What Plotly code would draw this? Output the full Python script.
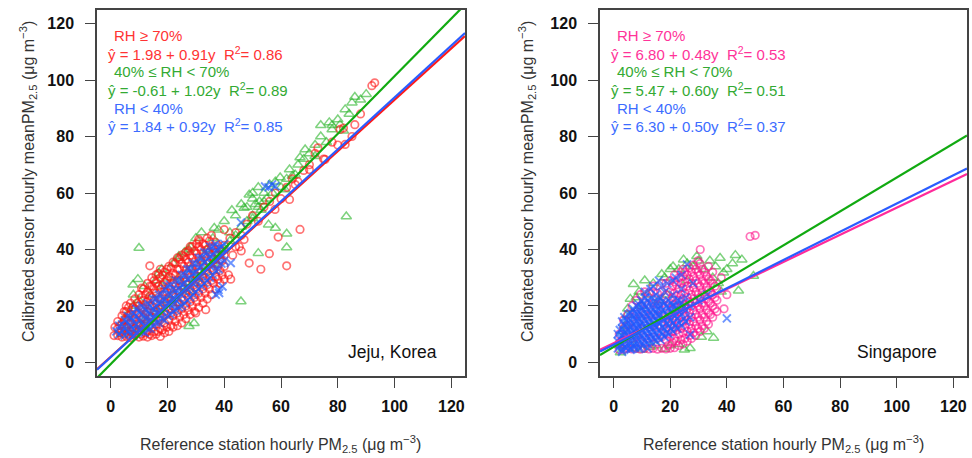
import plotly.graph_objects as go

W, H = 972, 458

# ---------------- data ----------------
ticks = [0, 20, 40, 60, 80, 100, 120]
axis_range = [-4.8, 124.8]

# regression coefficients (intercept, slope)
jeju_fit = {"high": (1.98, 0.91), "mid": (-0.61, 1.02), "low": (1.84, 0.92)}
sing_fit = {"high": (6.80, 0.48), "mid": (5.47, 0.60), "low": (6.30, 0.50)}
jeju_r2 = {"high": 0.86, "mid": 0.89, "low": 0.85}
sing_r2 = {"high": 0.53, "mid": 0.51, "low": 0.37}

jeju_high = [
    (1.2, 9.5), (1.5, 12.5), (2.5, 9.5), (2.5, 12), (2.5, 14.5),
    (4, 9), (4, 11), (4, 13.5), (4, 16.5),
    (5.5, 9.2), (5.5, 12.5), (5.5, 15), (5.5, 18), (5.5, 20),
    (7, 8.8), (7, 11), (7, 14), (7, 17), (7, 21),
    (8.5, 9.5), (8.5, 12), (8.5, 15.5), (8.5, 19), (8.5, 22.5),
    (10, 9), (10, 11.5), (10, 14), (10, 17.5), (10, 20), (10, 24),
    (11.5, 9.3), (11.5, 13), (11.5, 16), (11.5, 19), (11.5, 22), (11.5, 26),
    (13, 9), (13, 11), (13, 14.5), (13, 18), (13, 21.5), (13, 25), (13, 28),
    (14.5, 9.5), (14.5, 12.5), (14.5, 16), (14.5, 20), (14.5, 23), (14.5, 27), (14.5, 30),
    (16, 10), (16, 13.5), (16, 17), (16, 21), (16, 24.5), (16, 28), (16, 31),
    (17.5, 9.2), (17.5, 12), (17.5, 15), (17.5, 19), (17.5, 22.5), (17.5, 26), (17.5, 30), (17.5, 33),
    (19, 10.5), (19, 14), (19, 18), (19, 21.5), (19, 25), (19, 28.5), (19, 32),
    (20.5, 11), (20.5, 15), (20.5, 19), (20.5, 23), (20.5, 27), (20.5, 30.5), (20.5, 34),
    (22, 12.5), (22, 16.5), (22, 20), (22, 24), (22, 28), (22, 31.5), (22, 35.5),
    (23.5, 13), (23.5, 17.5), (23.5, 21.5), (23.5, 25.5), (23.5, 29), (23.5, 33), (23.5, 37),
    (25, 14), (25, 19), (25, 23), (25, 27), (25, 31), (25, 35), (25, 38),
    (26.5, 15.5), (26.5, 20), (26.5, 24.5), (26.5, 28.5), (26.5, 32.5), (26.5, 36.5), (26.5, 39),
    (28, 17), (28, 21.5), (28, 26), (28, 30), (28, 34), (28, 38), (28, 41),
    (29.5, 18), (29.5, 23), (29.5, 27.5), (29.5, 31.5), (29.5, 35.5), (29.5, 39.5),
    (31, 19.5), (31, 24.5), (31, 29), (31, 33), (31, 37), (31, 41), (31, 43.5),
    (32.5, 21), (32.5, 26), (32.5, 30.5), (32.5, 34.5), (32.5, 38.5), (32.5, 42),
    (34, 22.5), (34, 27.5), (34, 32), (34, 36), (34, 40), (34, 44),
    (35.5, 24), (35.5, 29), (35.5, 33.5), (35.5, 37.5), (35.5, 41), (35.5, 45),
    (37, 26), (37, 30.5), (37, 35), (37, 39), (37, 42.5),
    (38.5, 28), (38.5, 32.5), (38.5, 36.5), (38.5, 40),
    (40, 29.5), (40, 34), (40, 38), (40, 41.5),
    (3.2, 10.5), (3.2, 13), (4.8, 10), (4.8, 12.5), (4.8, 15), (4.8, 18),
    (6.3, 10), (6.3, 13.5), (6.3, 16.5), (6.3, 19.5), (7.8, 10), (7.8, 12.5), (7.8, 16), (7.8, 19.5),
    (9.3, 10.5), (9.3, 13.5), (9.3, 17), (9.3, 21), (10.8, 10), (10.8, 13), (10.8, 16), (10.8, 19.5), (10.8, 23),
    (12.3, 10.5), (12.3, 13.5), (12.3, 17), (12.3, 20.5), (12.3, 24),
    (13.8, 10), (13.8, 13), (13.8, 16.5), (13.8, 20), (13.8, 23.5), (13.8, 27),
    (15.3, 11), (15.3, 14.5), (15.3, 18), (15.3, 22), (15.3, 26), (15.3, 29),
    (16.8, 11), (16.8, 15), (16.8, 19), (16.8, 23), (16.8, 27), (16.8, 31.5),
    (18.3, 11.5), (18.3, 16), (18.3, 20), (18.3, 24), (18.3, 27.5), (18.3, 31),
    (19.8, 12.5), (19.8, 17), (19.8, 21), (19.8, 25), (19.8, 29), (19.8, 33),
    (21.3, 13), (21.3, 17.5), (21.3, 22), (21.3, 26), (21.3, 30), (21.3, 33.5),
    (22.8, 14.5), (22.8, 19), (22.8, 23), (22.8, 27), (22.8, 31), (22.8, 35),
    (24.3, 16), (24.3, 20.5), (24.3, 25), (24.3, 29), (24.3, 33), (24.3, 36.5),
    (25.8, 17), (25.8, 22), (25.8, 26), (25.8, 30), (25.8, 34), (25.8, 37.5),
    (27.3, 18.5), (27.3, 23), (27.3, 27.5), (27.3, 31.5), (27.3, 35.5), (27.3, 39.5),
    (28.8, 20), (28.8, 24.5), (28.8, 29), (28.8, 33), (28.8, 37), (28.8, 41),
    (30.3, 21.5), (30.3, 26), (30.3, 30.5), (30.3, 34.5), (30.3, 38.5), (30.3, 42),
    (31.8, 23), (31.8, 27.5), (31.8, 32), (31.8, 36), (31.8, 40),
    (33.3, 24.5), (33.3, 29), (33.3, 33.5), (33.3, 37.5), (33.3, 41.5),
    (34.8, 26), (34.8, 30.5), (34.8, 35), (34.8, 39), (34.8, 43),
    (36.3, 28), (36.3, 32.5), (36.3, 36.5), (36.3, 40.5),
    (37.8, 29.5), (37.8, 34), (37.8, 38), (37.8, 41.5), (39.3, 31), (39.3, 36), (39.3, 39.5),
    (13.8, 34.2), (52.9, 33), (62, 34.2), (55.9, 38.5), (59, 44.4), (45.3, 41), (47, 43.5),
    (40, 47), (48.8, 35.2), (42.3, 29.5), (30, 17.5), (33.5, 18.7), (10.9, 26.3), (31.2, 42.9),
    (43, 38), (44, 41), (46, 39.5), (41.5, 31),
    (42, 44), (44, 46), (46, 45), (48, 49), (50, 52), (52, 50), (54, 55), (56, 57), (58, 60),
    (60, 58), (62, 62), (64, 65), (66, 64), (68, 68), (70, 70), (72, 74), (75, 72), (78, 78),
    (80, 77), (82, 83), (85, 80), (88, 88), (92, 98), (93, 99), (80.8, 82.5), (86, 84.2),
    (82.6, 77.2), (73, 76), (75.5, 71.9), (70, 68.3), (65, 63), (63, 57.7), (57.9, 54.2), (66.7, 47.1),
]

jeju_mid = [
    (4, 10), (4, 14), (6, 11), (6, 17), (8, 12), (8, 20), (8, 24), (10, 13), (10, 22),
    (12, 15), (12, 27), (14, 16), (14, 24), (16, 18), (16, 29), (18, 20), (18, 27), (18, 33),
    (20, 22), (20, 30), (22, 24), (22, 35), (24, 21), (24, 30), (24, 37), (26, 27), (26, 39),
    (28, 25), (28, 33), (28, 41), (30, 30), (30, 44), (32, 28), (32, 36), (32, 46), (34, 32),
    (34, 40), (36, 35), (36, 44), (38, 38), (38, 47), (40, 40), (40, 50), (42, 43), (42, 46),
    (44, 45), (44, 52), (46, 48), (46, 56), (48, 50), (48, 55), (50, 52), (50, 58), (50, 60),
    (52, 55), (52, 62), (54, 57), (54, 60),
    (10, 40.5), (9.6, 29.5), (7.9, 27.5), (83, 51.7), (45.9, 21.6), (52, 38.7), (62, 45.6),
    (58, 47.6), (55.6, 48.8), (42.7, 53.9), (47, 54.7), (48.8, 59.4), (52.4, 57), (27.6, 12.8),
    (29.4, 13.9), (36.5, 47.6), (24, 37.6), (27.6, 39.9), (17, 31.6), (62, 40.7),
    (86, 94), (82.6, 89.6), (77, 85), (74, 84), (78, 82.5), (80.8, 84.2), (72, 77), (68.5, 75.4),
    (66.7, 72.6), (63, 68.3), (65, 66.5), (59.7, 65.5), (61.4, 61.2), (56, 63), (60, 62),
    (62, 65), (64, 66), (66, 70), (68, 72), (70, 74), (72, 73), (74, 80), (76, 78), (78, 84),
    (80, 86), (82, 82), (84, 88), (85, 92), (88, 93), (90, 95), (57, 60), (58, 64), (55, 58),
    (53, 54), (51, 56), (50, 51),
]

jeju_low = [
    (3, 10), (3, 13), (5, 9.5), (5, 12), (5, 15), (7, 10), (7, 13), (7, 16),
    (9, 10.5), (9, 13.5), (9, 16.5), (9, 19), (11, 11), (11, 14), (11, 17), (11, 20),
    (13, 12), (13, 15), (13, 18), (13, 21), (15, 13), (15, 16), (15, 19), (15, 22.5),
    (17, 14), (17, 17.5), (17, 21), (17, 24), (19, 15), (19, 19), (19, 22), (19, 26),
    (21, 17), (21, 20.5), (21, 24), (21, 27.5), (23, 18.5), (23, 22), (23, 25.5), (23, 29),
    (25, 20), (25, 24), (25, 27.5), (25, 31), (27, 22), (27, 26), (27, 29.5), (27, 33),
    (29, 24), (29, 28), (29, 31.5), (29, 35), (31, 26), (31, 30), (31, 33.5), (31, 37),
    (33, 28), (33, 32), (33, 35.5), (33, 39), (35, 30), (35, 34), (35, 37.5), (35, 41),
    (37, 32.5), (37, 36), (37, 39.5), (37, 42), (39, 35), (39, 38.5), (39, 41),
    (4, 11), (6, 14), (8, 12), (10, 15), (12, 13), (14, 17), (16, 20), (18, 18), (20, 21),
    (22, 23), (24, 26), (26, 25), (28, 30), (30, 32), (32, 34), (34, 33), (36, 38), (38, 37), (40, 40),
    (2, 11), (4, 13.5), (6, 11), (6, 16.5), (8, 9.5), (8, 15), (8, 17.5), (10, 11.5), (10, 18),
    (12, 10.5), (12, 16), (12, 19), (14, 12), (14, 20), (14, 15), (16, 14), (16, 17.5), (16, 22.5),
    (18, 15.5), (18, 21.5), (18, 24), (20, 16.5), (20, 24), (20, 27), (22, 18), (22, 20.5), (22, 26),
    (24, 19.5), (24, 22.5), (24, 29), (26, 21), (26, 28), (26, 31), (28, 23), (28, 26.5), (28, 33),
    (30, 25), (30, 28.5), (30, 35), (32, 27), (32, 30.5), (32, 37), (34, 29), (34, 36.5), (34, 39),
    (36, 31), (36, 34.5), (36, 41), (38, 33), (38, 40.5), (40, 36), (40, 42),
    (55.6, 62), (42.3, 35.2), (38.2, 24.6), (39.4, 26.9), (45.9, 49.6), (58, 62.4),
    (54.4, 62.3), (56.8, 63), (37, 24), (38, 25.7),
]

sing_high = [
    (2, 4.5), (2, 7), (2, 10),
    (3.5, 4.6), (3.5, 8), (3.5, 12), (3.5, 15),
    (5, 5), (5, 9), (5, 13), (5, 17),
    (6.5, 4.8), (6.5, 8.5), (6.5, 12), (6.5, 16), (6.5, 20),
    (8, 5), (8, 9), (8, 13), (8, 17), (8, 22),
    (9.5, 4.7), (9.5, 8), (9.5, 12), (9.5, 16), (9.5, 20), (9.5, 24),
    (11, 5), (11, 9), (11, 13), (11, 17), (11, 21), (11, 25),
    (12.5, 4.8), (12.5, 8.5), (12.5, 12.5), (12.5, 16.5), (12.5, 20.5), (12.5, 24.5),
    (14, 5), (14, 9), (14, 13), (14, 17), (14, 21), (14, 25), (14, 27),
    (15.5, 4.7), (15.5, 8.5), (15.5, 12.5), (15.5, 16.5), (15.5, 20.5), (15.5, 24.5),
    (17, 5), (17, 9), (17, 13), (17, 17), (17, 21), (17, 25), (17, 28),
    (18.5, 4.8), (18.5, 8), (18.5, 12), (18.5, 16), (18.5, 20), (18.5, 24), (18.5, 28),
    (20, 5), (20, 9), (20, 13), (20, 17), (20, 21), (20, 25), (20, 29),
    (21.5, 5.2), (21.5, 8.5), (21.5, 12.5), (21.5, 16.5), (21.5, 20.5), (21.5, 24.5), (21.5, 28.5), (21.5, 31),
    (23, 6), (23, 10), (23, 14), (23, 18), (23, 22), (23, 26), (23, 30),
    (24.5, 6.5), (24.5, 10.5), (24.5, 14.5), (24.5, 18.5), (24.5, 22.5), (24.5, 26.5), (24.5, 30.5), (24.5, 33),
    (26, 7.5), (26, 11), (26, 15), (26, 19), (26, 23), (26, 27), (26, 31),
    (27.5, 8.5), (27.5, 12), (27.5, 16), (27.5, 20), (27.5, 24), (27.5, 28), (27.5, 32),
    (29, 9.5), (29, 13), (29, 17), (29, 21), (29, 25), (29, 29), (29, 33),
    (30.5, 11), (30.5, 15), (30.5, 19), (30.5, 23), (30.5, 27), (30.5, 31), (30.5, 35),
    (32, 12), (32, 16), (32, 20), (32, 24), (32, 28), (32, 32),
    (33.5, 13.5), (33.5, 17.5), (33.5, 21.5), (33.5, 25.5), (33.5, 29.5), (33.5, 34),
    (35, 16), (35, 20), (35, 24), (35, 28), (35, 32),
    (36.5, 18), (36.5, 22), (36.5, 26),
    (19.2, 6), (19.2, 10), (19.2, 14), (20.8, 7), (20.8, 11), (20.8, 15), (20.8, 19), (20.8, 23), (20.8, 27),
    (22.2, 7.5), (22.2, 11.5), (22.2, 15.5), (22.2, 19.5), (22.2, 23.5), (22.2, 27.5),
    (23.8, 8), (23.8, 12), (23.8, 16), (23.8, 20), (23.8, 24), (23.8, 28), (23.8, 32),
    (25.2, 8.5), (25.2, 12.5), (25.2, 16.5), (25.2, 20.5), (25.2, 24.5), (25.2, 28.5), (25.2, 32),
    (26.8, 9.5), (26.8, 13.5), (26.8, 17.5), (26.8, 21.5), (26.8, 25.5), (26.8, 29.5), (26.8, 33.5),
    (28.2, 10.5), (28.2, 14.5), (28.2, 18.5), (28.2, 22.5), (28.2, 26.5), (28.2, 30.5), (28.2, 34.5),
    (29.8, 12), (29.8, 16), (29.8, 20), (29.8, 24), (29.8, 28), (29.8, 32), (29.8, 36),
    (31.2, 13), (31.2, 17), (31.2, 21), (31.2, 25), (31.2, 29), (31.2, 33),
    (32.8, 14.5), (32.8, 18.5), (32.8, 22.5), (32.8, 26.5), (32.8, 30.5),
    (34.2, 17), (34.2, 21), (34.2, 25), (34.2, 29), (35.8, 19), (35.8, 23), (35.8, 27),
    (48.2, 44.6), (50, 45), (30.6, 40), (38, 30), (40, 24), (39, 19),
]

sing_mid = [
    (7, 27.7), (17, 31.2), (24.7, 36.4), (29.4, 37.6), (37.6, 37), (45.3, 36.4), (49.4, 30.6),
    (44.1, 25.4), (35.3, 8.7), (22.9, 6.4), (5.9, 22.5), (4.7, 16.8), (20, 33), (38.8, 31.8),
    (2.4, 3.5), (2, 6), (3, 11), (4, 13), (5, 19), (6, 8), (8, 23), (9, 25), (10, 20),
    (12, 24), (14, 28), (15, 6), (16, 22), (18, 30), (20, 6), (21, 34), (23, 33), (25, 4.5),
    (26, 35), (27, 5), (28, 34), (30, 36), (31, 9), (32, 33), (34, 36), (35, 30), (36, 34),
    (37, 28), (40, 33), (42, 35), (13, 5.5), (18, 4.8), (10, 4.5), (7, 5), (11, 29), (19, 24),
    (26, 29), (33, 11), (38, 25), (43, 38),
]

sing_low = [
    (1.5, 5), (1.5, 7.5), (1.5, 10),
    (3, 4.6), (3, 7), (3, 9.5), (3, 12), (3, 14.5),
    (4.5, 5), (4.5, 7.5), (4.5, 10), (4.5, 12.5), (4.5, 15),
    (6, 5), (6, 7.5), (6, 10), (6, 12.5), (6, 15), (6, 17.5),
    (7.5, 5.2), (7.5, 8), (7.5, 10.5), (7.5, 13), (7.5, 15.5), (7.5, 18),
    (9, 5.5), (9, 8), (9, 10.5), (9, 13), (9, 15.5), (9, 18), (9, 20.5),
    (10.5, 6), (10.5, 8.5), (10.5, 11), (10.5, 13.5), (10.5, 16), (10.5, 18.5), (10.5, 21),
    (12, 6.5), (12, 9), (12, 11.5), (12, 14), (12, 16.5), (12, 19), (12, 22),
    (13.5, 7), (13.5, 9.5), (13.5, 12), (13.5, 14.5), (13.5, 17), (13.5, 19.5), (13.5, 23),
    (15, 7.5), (15, 10), (15, 12.5), (15, 15), (15, 17.5), (15, 20), (15, 24),
    (16.5, 8), (16.5, 11), (16.5, 14), (16.5, 17), (16.5, 20), (16.5, 23),
    (18, 9), (18, 12), (18, 15), (18, 18), (18, 21), (18, 25),
    (19.5, 10), (19.5, 13), (19.5, 16), (19.5, 19), (19.5, 22),
    (21, 11), (21, 14), (21, 17), (21, 20), (21, 24),
    (22.5, 12), (22.5, 15.5), (22.5, 19), (22.5, 22),
    (24, 13), (24, 17), (24, 21), (24, 26),
    (25.5, 14.5), (25.5, 18.5), (25.5, 23),
    (27, 16), (27, 20), (27, 9.8),
    (2.2, 6), (2.2, 8.5), (2.2, 11.5), (3.8, 5.5), (3.8, 8.5), (3.8, 11), (3.8, 13.5), (3.8, 16),
    (5.2, 6), (5.2, 9), (5.2, 11.5), (5.2, 14), (5.2, 17),
    (6.8, 6), (6.8, 9), (6.8, 11.5), (6.8, 14), (6.8, 16.5), (6.8, 19),
    (8.2, 6.5), (8.2, 9.5), (8.2, 12), (8.2, 14.5), (8.2, 17), (8.2, 20),
    (9.8, 7), (9.8, 9.5), (9.8, 12), (9.8, 14.5), (9.8, 17), (9.8, 19.5), (9.8, 22),
    (11.2, 7.5), (11.2, 10), (11.2, 12.5), (11.2, 15), (11.2, 17.5), (11.2, 20), (11.2, 23),
    (12.8, 8), (12.8, 10.5), (12.8, 13), (12.8, 15.5), (12.8, 18), (12.8, 21),
    (14.2, 8.5), (14.2, 11), (14.2, 13.5), (14.2, 16), (14.2, 18.5), (14.2, 21.5),
    (15.8, 9), (15.8, 11.5), (15.8, 14), (15.8, 16.5), (15.8, 19), (15.8, 22),
    (17.2, 10), (17.2, 12.5), (17.2, 15.5), (17.2, 18.5), (17.2, 21.5),
    (18.8, 10.5), (18.8, 14), (18.8, 17), (18.8, 20), (20.2, 12), (20.2, 15), (20.2, 18), (20.2, 21),
    (21.8, 13), (21.8, 16.5), (21.8, 20), (23.2, 14), (23.2, 18), (23.2, 22), (24.8, 15.5), (24.8, 19.5),
    (40, 15.6), (25.9, 34.7), (30, 22), (33, 24), (28, 28), (21, 29), (17, 27), (13, 26),
    (11, 25), (14, 27), (16, 29), (19, 28), (22, 30), (24, 31),
    (6, 4.5), (9, 4.8), (12, 5), (3, 3.8),
]

# ---------------- styles ----------------
C_RED_M = "rgba(255,20,20,0.6)"
C_PINK_M = "rgba(255,20,140,0.6)"
C_GRN_M = "rgba(40,180,40,0.6)"
C_BLU_M = "rgba(30,90,255,0.65)"
C_RED_L = "#ff1a1a"
C_PINK_L = "#ff2a9a"
C_GRN_L = "#11aa11"
C_BLU_L = "#2a5cff"
T_RED = "#ff3333"
T_PINK = "#ff3399"
T_GRN = "#33aa33"
T_BLU = "#3c6cff"

fig = go.Figure()


def scatter(points, xa, ya, symbol, color, size, lw):
    fig.add_trace(go.Scatter(
        x=[p[0] for p in points], y=[p[1] for p in points], mode="markers",
        xaxis=xa, yaxis=ya, showlegend=False, hoverinfo="skip",
        marker=dict(symbol=symbol, size=size, color=color,
                    line=dict(color=color, width=lw)),
    ))


def fitline(coef, xa, ya, color):
    a, b = coef
    xs = [axis_range[0], axis_range[1]]
    fig.add_trace(go.Scatter(
        x=xs, y=[a + b * v for v in xs], mode="lines", xaxis=xa, yaxis=ya,
        showlegend=False, hoverinfo="skip", line=dict(color=color, width=2.2),
    ))


# Jeju
scatter(jeju_mid, "x", "y", "triangle-up-open", C_GRN_M, 9, 1.5)
scatter(jeju_high, "x", "y", "circle-open", C_RED_M, 7.5, 1.7)
scatter(jeju_low, "x", "y", "x-thin-open", C_BLU_M, 8, 1.9)
fitline(jeju_fit["high"], "x", "y", C_RED_L)
fitline(jeju_fit["mid"], "x", "y", C_GRN_L)
fitline(jeju_fit["low"], "x", "y", C_BLU_L)
# Singapore
scatter(sing_mid, "x2", "y2", "triangle-up-open", C_GRN_M, 9, 1.5)
scatter(sing_high, "x2", "y2", "circle-open", C_PINK_M, 7.5, 1.7)
scatter(sing_low, "x2", "y2", "x-thin-open", C_BLU_M, 8, 1.9)
fitline(sing_fit["high"], "x2", "y2", C_PINK_L)
fitline(sing_fit["mid"], "x2", "y2", C_GRN_L)
fitline(sing_fit["low"], "x2", "y2", C_BLU_L)

# ---------------- layout ----------------
dom_y = [1 - 376 / H, 1 - 10 / H]
axis_common = dict(
    range=axis_range, tickvals=ticks, ticks="outside", ticklen=10, tickwidth=1.2,
    tickcolor="#444", showline=True, linecolor="#444", linewidth=1.5, mirror=True,
    showgrid=False, zeroline=False,
    tickfont=dict(family="Liberation Sans, Arial", size=16, color="#111", weight="bold"),
)
fig.update_layout(
    width=W, height=H, margin=dict(l=0, r=0, t=0, b=0),
    paper_bgcolor="white", plot_bgcolor="white", showlegend=False,
    xaxis=dict(domain=[97 / W, 465 / W], anchor="y", ticklabelstandoff=5, **axis_common),
    yaxis=dict(domain=dom_y, anchor="x", ticklabelstandoff=8, **axis_common),
    xaxis2=dict(domain=[600 / W, 967 / W], anchor="y2", ticklabelstandoff=5, **axis_common),
    yaxis2=dict(domain=dom_y, anchor="x2", ticklabelstandoff=8, **axis_common),
)

FONT = "Liberation Sans, Arial"
ann = []


def text(px, py, s, color, size=15, xanchor="left", angle=0):
    ann.append(dict(x=px / W, y=1 - py / H, xref="paper", yref="paper", text=s,
                    showarrow=False, xanchor=xanchor, yanchor="middle", textangle=angle,
                    font=dict(family=FONT, size=size, color=color)))


SP = "\u00a0"


def eq(coef, r2):
    a, b = coef
    return (f"ŷ = {a:.2f} + {b:.2f}y{SP}{SP}R<sup>2</sup>= {r2:.2f}")


labels = ["RH ≥ 70%", "40% ≤ RH < 70%", "RH < 40%"]
keys = ["high", "mid", "low"]
for panel_x, fits, r2s, cols in [
    (0, jeju_fit, jeju_r2, [T_RED, T_GRN, T_BLU]),
    (503, sing_fit, sing_r2, [T_PINK, T_GRN, T_BLU]),
]:
    for i, k in enumerate(keys):
        y0 = 35 + i * 36.5
        text(112 + panel_x, y0, labels[i], cols[i])
        text(106 + panel_x, y0 + 18, eq(fits[k], r2s[k]), cols[i])

text(392, 352, "Jeju, Korea", "#111", size=17.5, xanchor="center")
text(897, 352, "Singapore", "#111", size=17.5, xanchor="center")

ytitle = "Calibrated sensor hourly meanPM<sub>2.5</sub> (μg m<sup>−3</sup>)"
xtitle = "Reference station hourly PM<sub>2.5</sub> (μg m<sup>−3</sup>)"
text(28, 182, ytitle, "#333", size=16, xanchor="center", angle=-90)
text(527, 182, ytitle, "#333", size=16, xanchor="center", angle=-90)
text(280, 444, xtitle, "#333", size=16, xanchor="center")
text(783, 444, xtitle, "#333", size=16, xanchor="center")

fig.update_layout(annotations=ann)
fig.write_html(
    "out.html",
    config={"displayModeBar": False},
    post_script="document.body.style.margin='0px';document.body.style.overflow='hidden';",
)
